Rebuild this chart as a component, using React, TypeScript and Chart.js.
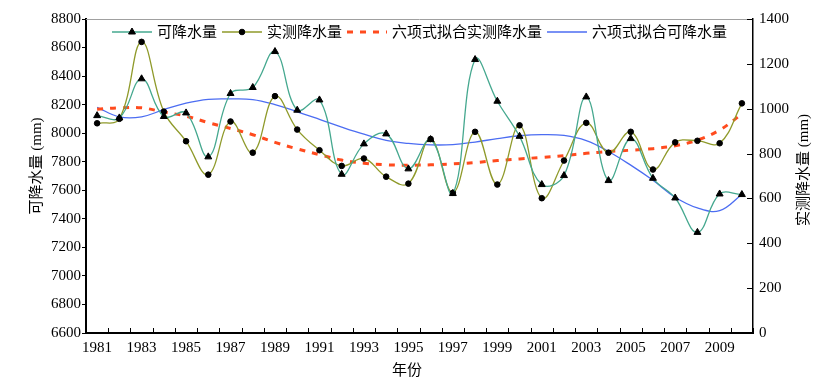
import React, { useEffect, useRef } from "react";
import { Chart, registerables } from "chart.js";
import { drawPoint } from "chart.js/helpers";

Chart.register(...registerables);

const years = [
  "1981", "1982", "1983", "1984", "1985", "1986", "1987", "1988", "1989", "1990",
  "1991", "1992", "1993", "1994", "1995", "1996", "1997", "1998", "1999", "2000",
  "2001", "2002", "2003", "2004", "2005", "2006", "2007", "2008", "2009", "2010",
];

// 可降水量 (left axis, mm)
const precipitable = [
  8123, 8107, 8381, 8117, 8142, 7834, 8278, 8320, 8572, 8161,
  8233, 7712, 7925, 7995, 7750, 7955, 7577, 8516, 8224, 7978,
  7640, 7703, 8254, 7668, 7962, 7684, 7546, 7305, 7574, 7570,
];

// 实测降水量 (right axis, mm)
const measured = [
  935, 955, 1298, 987, 855, 706, 943, 804, 1056, 907,
  815, 745, 778, 697, 666, 865, 625, 897, 662, 926,
  601, 769, 937, 804, 897, 729, 850, 857, 846, 1024,
];

// 六项式拟合实测降水量 (right axis)
const fitMeasured = [
  998, 1004, 1004, 985, 967, 938, 912, 884, 850, 821,
  795, 771, 757, 750, 748, 750, 754, 760, 769, 776,
  783, 791, 801, 809, 815, 822, 835, 860, 905, 976,
];

// 六项式拟合可降水量 (left axis)
const fitPrecipitable = [
  8181, 8115, 8115, 8165, 8210, 8237, 8240, 8235, 8200, 8150,
  8097, 8043, 7993, 7950, 7928, 7918, 7920, 7938, 7962, 7982,
  7990, 7984, 7948, 7872, 7776, 7670, 7551, 7476, 7457, 7570,
];

const leftTicks = { min: 6600, max: 8800, step: 200 };
const rightTicks = { min: 0, max: 1400, step: 200 };

const TEAL = "#45a88f";
const OLIVE = "#8f9a2a";
const RED = "#ff4b1e";
const BLUE = "#4c6df2";
const FONT = '"Liberation Serif", "Noto Sans CJK SC", serif';

const decorPlugin = {
  id: "decor",
  afterDraw(chart: any) {
    const ctx = chart.ctx as CanvasRenderingContext2D;
    const { left, right, top, bottom } = chart.chartArea;
    ctx.save();

    // top border
    ctx.strokeStyle = "#a0a0a0";
    ctx.lineWidth = 1;
    ctx.beginPath();
    ctx.moveTo(left, top + 0.5);
    ctx.lineTo(right, top + 0.5);
    ctx.stroke();

    // inward x ticks at category boundaries
    const xs = chart.scales.x;
    const half = (xs.getPixelForValue(1) - xs.getPixelForValue(0)) / 2;
    ctx.strokeStyle = "#000";
    ctx.lineWidth = 1;
    for (let i = 0; i <= years.length; i++) {
      const px =
        i < years.length ? xs.getPixelForValue(i) - half : xs.getPixelForValue(years.length - 1) + half;
      const p = Math.round(px) + 0.5;
      ctx.beginPath();
      ctx.moveTo(p, bottom);
      ctx.lineTo(p, bottom - 5);
      ctx.stroke();
    }

    // inward right ticks
    const ys = chart.scales.y1;
    ys.ticks.forEach((_t: any, i: number) => {
      const py = Math.round(ys.getPixelForTick(i)) + 0.5;
      ctx.beginPath();
      ctx.moveTo(right - 6, py);
      ctx.lineTo(right, py);
      ctx.stroke();
    });

    // axis titles
    ctx.fillStyle = "#000";
    ctx.font = `15px ${FONT}`;
    ctx.textAlign = "center";
    ctx.textBaseline = "middle";
    ctx.fillText("年份", 407, 371);

    ctx.save();
    ctx.translate(37, 166);
    ctx.rotate(-Math.PI / 2);
    ctx.fillText("可降水量 (mm)", 0, 0);
    ctx.restore();

    ctx.save();
    ctx.translate(804, 170);
    ctx.rotate(-Math.PI / 2);
    ctx.fillText("实测降水量 (mm)", 0, 0);
    ctx.restore();

    // legend
    const items = chart.data.datasets.map((d: any) => d.label as string);
    ctx.font = `15px ${FONT}`;
    const sample = 40;
    const gap = 5;
    const widths = items.map((t: string) => ctx.measureText(t).width);
    let total = 0;
    widths.forEach((w: number) => (total += sample + gap + w));
    total += gap * (items.length - 1);
    let x = (left + right) / 2 - total / 2;
    const y = 32;
    chart.data.datasets.forEach((d: any, i: number) => {
      ctx.save();
      ctx.strokeStyle = d.borderColor;
      ctx.lineWidth = d.borderWidth;
      ctx.setLineDash(d.borderDash || []);
      ctx.beginPath();
      ctx.moveTo(x, y);
      ctx.lineTo(x + sample, y);
      ctx.stroke();
      ctx.setLineDash([]);
      if (d.pointRadius > 0) {
        ctx.fillStyle = "#000";
        ctx.strokeStyle = "#000";
        ctx.lineWidth = 1;
        drawPoint(ctx, { pointStyle: d.pointStyle, radius: d.pointRadius, rotation: 0, borderWidth: 1 } as any, x + sample / 2, y);
      }
      ctx.restore();
      ctx.fillStyle = "#000";
      ctx.textAlign = "left";
      ctx.textBaseline = "middle";
      ctx.fillText(items[i], x + sample + gap, y + 1);
      x += sample + gap + widths[i] + gap;
    });

    ctx.restore();
  },
};

export default function App() {
  const ref = useRef<HTMLCanvasElement | null>(null);

  useEffect(() => {
    if (!ref.current) return;
    const chart = new Chart(ref.current, {
      type: "line",
      data: {
        labels: years,
        datasets: [
          {
            label: "可降水量",
            data: precipitable,
            yAxisID: "y",
            borderColor: TEAL,
            borderWidth: 1.3,
            tension: 0.4,
            pointStyle: "triangle",
            pointRadius: 4,
            pointBackgroundColor: "#000",
            pointBorderColor: "#000",
            pointBorderWidth: 1,
          },
          {
            label: "实测降水量",
            data: measured,
            yAxisID: "y1",
            borderColor: OLIVE,
            borderWidth: 1.3,
            tension: 0.4,
            pointStyle: "circle",
            pointRadius: 2.8,
            pointBackgroundColor: "#000",
            pointBorderColor: "#000",
            pointBorderWidth: 1,
          },
          {
            label: "六项式拟合实测降水量",
            data: fitMeasured,
            yAxisID: "y1",
            borderColor: RED,
            borderWidth: 3,
            borderDash: [6, 7],
            tension: 0.4,
            pointRadius: 0,
          },
          {
            label: "六项式拟合可降水量",
            data: fitPrecipitable,
            yAxisID: "y",
            borderColor: BLUE,
            borderWidth: 1.3,
            tension: 0.4,
            pointRadius: 0,
          },
        ],
      },
      options: {
        animation: false,
        responsive: false,
        devicePixelRatio: 1,
        layout: { padding: { top: 19, left: 0, right: 0, bottom: 0 } },
        plugins: { legend: { display: false }, tooltip: { enabled: false } },
        scales: {
          x: {
            type: "category",
            offset: true,
            grid: { display: false, drawTicks: false },
            border: { display: true, color: "#000", width: 2 },
            ticks: {
              autoSkip: false,
              maxRotation: 0,
              minRotation: 0,
              color: "#000",
              padding: 6,
              font: { family: FONT, size: 15 },
              callback: (_v: any, i: number) => (i % 2 === 0 ? years[i] : ""),
            },
            afterFit: (s: any) => {
              s.height = 52;
            },
          },
          y: {
            type: "linear",
            position: "left",
            min: leftTicks.min,
            max: leftTicks.max,
            ticks: {
              stepSize: leftTicks.step,
              color: "#000",
              padding: 1,
              font: { family: FONT, size: 15 },
              callback: (v: any) => String(v),
            },
            grid: { drawOnChartArea: false, drawTicks: true, tickLength: 4, color: "#000", lineWidth: 1 },
            border: { display: true, color: "#000", width: 2 },
            afterFit: (s: any) => {
              s.width = 86;
            },
          },
          y1: {
            type: "linear",
            position: "right",
            min: rightTicks.min,
            max: rightTicks.max,
            ticks: {
              stepSize: rightTicks.step,
              color: "#000",
              padding: 6,
              font: { family: FONT, size: 15 },
              callback: (v: any) => String(v),
            },
            grid: { display: false, drawTicks: false },
            border: { display: true, color: "#000", width: 1.5 },
            afterFit: (s: any) => {
              s.width = 70;
            },
          },
        },
      },
      plugins: [decorPlugin],
    });
    return () => chart.destroy();
  }, []);

  return (
    <div style={{ position: "fixed", left: 0, top: 0, width: 823, height: 385, background: "#fff" }}>
      <canvas ref={ref} width={823} height={385} style={{ display: "block", width: 823, height: 385 }} />
    </div>
  );
}
